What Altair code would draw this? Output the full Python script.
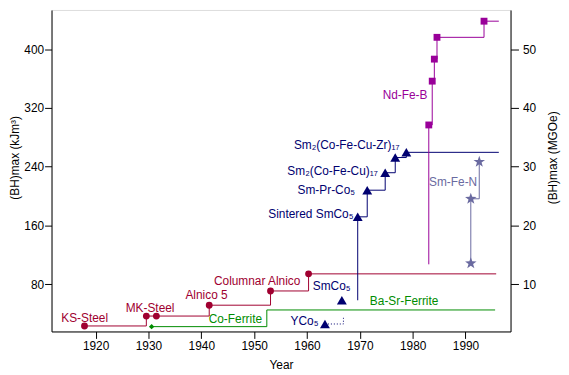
import altair as alt
import pandas as pd

FONT = "Liberation Sans"

RED = "#a00030"
GREEN = "#008c00"
NAVY = "#000070"
PURPLE = "#990099"
SLATE = "#6a6aa0"

# ---- data (year, (BH)max in kJ/m^3) ----
red_year = [1917.9, 1929.6, 1931.5, 1941.5, 1953.1, 1960.3]
red_bh = [22.9, 36.4, 36.4, 51.2, 70.6, 93.9]
red_end = 1995.8

green_year = [1930.6, 1952.4]
green_bh = [22.0, 44.7]
green_end = 1995.6

yco_year = [1963.4, 1966.9]
yco_bh = [25.6, 34.0]

smco5_year = [1966.6]
smco5_bh = [57.9]

navy_stem_year = [1969.6]
navy_stem_bh = [57.9]
navy_year = [1969.6, 1971.4, 1974.8, 1976.7, 1978.8]
navy_bh = [171.6, 207.9, 231.7, 252.4, 259.5]
navy_end = 1996.3

nd_stem_year = [1983.05]
nd_stem_bh = [106.9]
nd_year = [1983.05, 1983.7, 1984.1, 1984.6, 1993.5]
nd_bh = [296.8, 356.5, 386.5, 416.2, 438.2]
nd_end = 1996.3

smfen_year = [1991.0, 1991.0, 1992.6]
smfen_bh = [108.3, 196.2, 246.5]

# labels
left_labels = ["KS-Steel", "MK-Steel", "Alnico 5", "Columnar Alnico", "Co-Ferrite",
               "Ba-Sr-Ferrite", "YCo\u2085", "SmCo\u2085", "Sm-Fe-N"]
left_lab_year = [1913.5, 1925.7, 1937.0, 1942.4, 1941.4, 1971.9, 1956.9, 1961.1, 1983.1]
left_lab_bh = [34.2, 47.7, 64.6, 83.8, 32.3, 56.6, 29.6, 77.3, 218.5]
left_lab_color = [RED, RED, RED, RED, GREEN, GREEN, NAVY, NAVY, SLATE]

right_labels = ["Sintered SmCo\u2085", "Sm-Pr-Co\u2085", "Sm\u2082(Co-Fe-Cu)\u2081\u2087",
                "Sm\u2082(Co-Fe-Cu-Zr)\u2081\u2087", "Nd-Fe-B"]
right_lab_year = [1968.8, 1969.1, 1973.4, 1977.5, 1982.8]
right_lab_bh = [176.0, 207.9, 233.9, 269.0, 337.0]
right_lab_color = [NAVY, NAVY, NAVY, NAVY, PURPLE]

x_ticks = [1920, 1930, 1940, 1950, 1960, 1970, 1980, 1990]
y_ticks = [80, 160, 240, 320, 400]
y2_ticks = [10, 20, 30, 40, 50]
Y_DOMAIN = [15.4, 453.5]
X_DOMAIN = [1911.66, 1998.52]

STAR = ("M0,-1 L0.235,-0.324 L0.951,-0.309 L0.380,0.124 L0.588,0.809 L0,0.4 "
        "L-0.588,0.809 L-0.380,0.124 L-0.951,-0.309 L-0.235,-0.324 Z")


def df(years, vals, extra=None):
    d = pd.DataFrame({"year": years, "bh": vals, "i": list(range(len(years)))})
    if extra:
        for k, v in extra.items():
            d[k] = v
    return d


AX = dict(grid=False, labelFont=FONT, titleFont=FONT, labelFontSize=12, titleFontSize=12,
          titleFontWeight="normal", labelColor="black", titleColor="black",
          domainColor="black", tickColor="black")

X = alt.X("year:Q", scale=alt.Scale(domain=X_DOMAIN, nice=False, zero=False),
          axis=alt.Axis(values=x_ticks, format="d", title="Year",
                        tickSize=7, labelPadding=2, titlePadding=8, **AX))
Y = alt.Y("bh:Q", scale=alt.Scale(domain=Y_DOMAIN, nice=False, zero=False),
          axis=alt.Axis(values=y_ticks, title="(BH)max (kJm\u00b3)",
                        tickSize=7, labelPadding=1, titlePadding=2, titleY=149, **AX))


def step_line(d, color, dash=None):
    kw = dict(interpolate="step-after", strokeWidth=1, color=color)
    if dash:
        kw["strokeDash"] = dash
    return alt.Chart(d).mark_line(**kw).encode(x=X, y=Y, order="i:Q")


def pts(d, color, shape, size):
    return alt.Chart(d).mark_point(filled=True, shape=shape, size=size, color=color,
                                   opacity=1).encode(x=X, y=Y)


red_line = step_line(df(red_year + [red_end], red_bh + [red_bh[-1]]), RED)
red_pts = pts(df(red_year, red_bh), RED, "circle", 48)

green_line = step_line(df(green_year + [green_end], green_bh + [green_bh[-1]]), GREEN)
green_pts = pts(df(green_year[:1], green_bh[:1]), GREEN, "diamond", 30)

yco_line = step_line(df(yco_year, yco_bh), NAVY, dash=[1, 2])
yco_pts = pts(df(yco_year[:1], yco_bh[:1]), NAVY, "triangle-up", 100)
smco5_pts = pts(df(smco5_year, smco5_bh), NAVY, "triangle-up", 100)

navy_line = step_line(df(navy_stem_year + navy_year + [navy_end],
                         navy_stem_bh + navy_bh + [navy_bh[-1]]), NAVY)
navy_pts = pts(df(navy_year, navy_bh), NAVY, "triangle-up", 100)

nd_line = step_line(df(nd_stem_year + nd_year + [nd_end],
                       nd_stem_bh + nd_bh + [nd_bh[-1]]), PURPLE)
nd_pts = pts(df(nd_year, nd_bh), PURPLE, "square", 48)

smfen_line = step_line(df(smfen_year, smfen_bh), SLATE)
smfen_pts = pts(df(smfen_year, smfen_bh), SLATE, STAR, 150)

left_text = alt.Chart(df(left_lab_year, left_lab_bh, {"t": left_labels, "c": left_lab_color})).mark_text(
    align="left", baseline="middle", font=FONT, fontSize=12).encode(
    x=X, y=Y, text="t:N", color=alt.Color("c:N", scale=None))
right_text = alt.Chart(df(right_lab_year, right_lab_bh, {"t": right_labels, "c": right_lab_color})).mark_text(
    align="right", baseline="middle", font=FONT, fontSize=12).encode(
    x=X, y=Y, text="t:N", color=alt.Color("c:N", scale=None))

main = alt.layer(red_line, green_line, yco_line, navy_line, nd_line, smfen_line,
                 red_pts, green_pts, yco_pts, smco5_pts, navy_pts, nd_pts, smfen_pts,
                 left_text, right_text)

right_axis = alt.Chart(pd.DataFrame({"mgoe": y2_ticks})).mark_point(opacity=0).encode(
    y=alt.Y("mgoe:Q", scale=alt.Scale(domain=[Y_DOMAIN[0] / 8, Y_DOMAIN[1] / 8], nice=False, zero=False),
            axis=alt.Axis(orient="right", values=y2_ticks, title="(BH)max (MGOe)",
                          tickSize=8, labelPadding=4, titlePadding=12, titleAngle=270,
                          titleBaseline="top", titleY=149, **AX))
)

chart = alt.layer(main, right_axis).resolve_scale(y="independent").properties(
    width=464, height=325, autosize="none",
    padding={"left": 44, "top": 0, "right": 51, "bottom": 40},
).configure_view(stroke="black", strokeWidth=1).configure_axis(
    domainWidth=1, tickWidth=1, titleFontWeight="normal",
).configure(background="white")

chart.save("out.html", embed_options={"renderer": "svg", "actions": False})
